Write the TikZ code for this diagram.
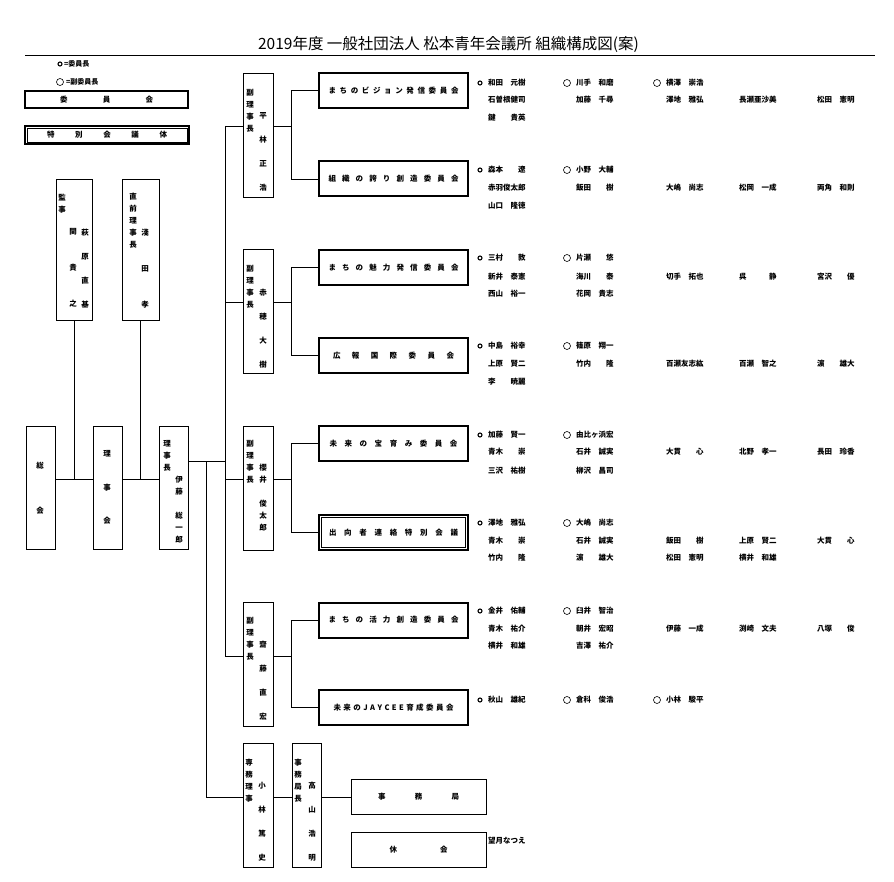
\documentclass[tikz,border=0pt]{standalone}
\usepackage{fontspec}
\setmainfont{Noto Sans CJK JP}

% spread the characters of a label over a fixed width
\newcommand\spreadtext[2]{\makebox[#1][s]{\spreadloop#2\relax}}
\def\spreadloop#1#2{#1\ifx\relax#2\else\hfill\expandafter\spreadloop\expandafter#2\fi}

% member rows beside the committees
\newcommand\headrow[3]{%
  \node[chairmark] (c#1) at (480,#1) {};
  \node[mem] (h#1-0) at (488,#1) {#2};
  \foreach \n [count=\i] in {#3} {
    \pgfmathsetmacro\cx{{488,576,666}[\i]}
    \node[vicemark] (v#1-\i) at (\cx-9,#1) {};
    \node[mem] (h#1-\i) at (\cx,#1) {\n};
  }}
\newcommand\memrow[2]{%
  \foreach \n [count=\i from 0] in {#2} {
    \pgfmathsetmacro\cx{{488,576,666,739,817}[\i]}
    \node[mem] (m#1-\i) at (\cx,#1) {\n};
  }}

\begin{document}
\begin{tikzpicture}[x=1pt, y=-1pt]
  \tikzstyle{link}=[line width=0.8pt]
  \tikzstyle{box}=[draw, line width=0.8pt, inner sep=0pt]
  \tikzstyle{vpbox}=[box, minimum width=30pt, minimum height=124pt]
  \tikzstyle{combox}=[draw, line width=2pt, inner sep=0pt, minimum width=149pt, minimum height=35pt, font=\fontsize{7.5}{9}\selectfont\bfseries]
  \tikzstyle{inner}=[line width=0.6pt]
  \tikzstyle{vcol}=[anchor=north, inner sep=0pt, align=center, font=\fontsize{7.5}{12}\selectfont\bfseries]
  \tikzstyle{vcolwide}=[vcol, font=\fontsize{7.5}{24}\selectfont\bfseries]
  \tikzstyle{mem}=[anchor=west, inner sep=0pt, font=\fontsize{7.5}{9}\selectfont\bfseries]
  \tikzstyle{chairmark}=[circle, draw, line width=1.1pt, minimum size=4pt, inner sep=0pt]
  \tikzstyle{vicemark}=[circle, draw, line width=0.6pt, minimum size=7pt, inner sep=0pt]

  \useasboundingbox (0,0) rectangle (894,882);

  % title
  \node[font=\fontsize{15.5}{18}\selectfont] (title) at (448.5,44) {2019年度 一般社団法人 松本青年会議所 組織構成図(案)};
  \coordinate (ruleL) at (25,55);
  \coordinate (ruleR) at (875,55);
  \draw[link] (ruleL) -- (ruleR);

  % legend
  \node[chairmark] (lgchair) at (60,64) {};
  \node[mem, font=\fontsize{7}{8}\selectfont\bfseries] (lgchairT) at (64,64) {=委員長};
  \node[vicemark] (lgvice) at (60,82) {};
  \node[mem, font=\fontsize{7}{8}\selectfont\bfseries] (lgviceT) at (66,82) {=副委員長};

  \node[box, line width=1.8pt, minimum width=163pt, minimum height=17pt, font=\fontsize{7.5}{9}\selectfont\bfseries] (iinkai) at (106.5,99.5) {\spreadtext{93pt}{委員会}};
  \node[box, line width=1.8pt, minimum width=164pt, minimum height=18pt, font=\fontsize{7.5}{9}\selectfont\bfseries] (tokubetsu) at (107,135) {\spreadtext{120pt}{特別会議体}};
  \draw[inner] ([shift={(3,3)}]tokubetsu.north west) rectangle ([shift={(-3,-3)}]tokubetsu.south east);

  % left side
  \node[box, minimum width=36pt, minimum height=141pt] (kanji) at (74,249.5) {};
  \node[vcol] (kanjiL) at (62,193.6) {監\\事};
  \node[vcol, font=\fontsize{7.5}{36}\selectfont\bfseries] (kanjiA) at (73,228.6) {関\\貴\\之};
  \node[vcolwide] (kanjiB) at (85,228.6) {萩\\原\\直\\基};

  \node[box, minimum width=37pt, minimum height=141pt] (chokuzen) at (140.5,249.5) {};
  \node[vcol] (chokuzenL) at (133,192.6) {直\\前\\理\\事\\長};
  \node[vcol, font=\fontsize{7.5}{36}\selectfont\bfseries] (chokuzenN) at (145,228.6) {淺\\田\\孝};

  \node[box, minimum width=29pt, minimum height=123pt] (sokai) at (40.5,487.5) {};
  \node[vcol, font=\fontsize{7.5}{45}\selectfont\bfseries] (sokaiT) at (40,461.6) {総\\会};
  \node[box, minimum width=29pt, minimum height=123pt] (rijikai) at (107.5,487.5) {};
  \node[vcol, font=\fontsize{7.5}{33.5}\selectfont\bfseries] (rijikaiT) at (107,450.6) {理\\事\\会};
  \node[box, minimum width=29pt, minimum height=123pt] (rijicho) at (173.5,487.5) {};
  \node[vcol] (rijichoL) at (167,440.6) {理\\事\\長};
  \node[vcol] (rijichoN) at (179,475.6) {伊\\藤\\[12pt]総\\一\\郎};

  % vice presidents
  \node[vpbox] (vp1) at (258,135) {};
  \node[vcol] (vp1L) at (250,88.6) {副\\理\\事\\長};
  \node[vcolwide] (vp1N) at (263,112.6) {平\\林\\正\\浩};
  \node[vpbox] (vp2) at (258,311) {};
  \node[vcol] (vp2L) at (250,264.6) {副\\理\\事\\長};
  \node[vcolwide] (vp2N) at (263,288.6) {赤\\穂\\大\\樹};
  \node[vpbox] (vp3) at (258,488) {};
  \node[vcol] (vp3L) at (250,439.6) {副\\理\\事\\長};
  \node[vcol] (vp3N) at (263,463.6) {櫻\\井\\[12pt]俊\\太\\郎};
  \node[vpbox] (vp4) at (258,664) {};
  \node[vcol] (vp4L) at (250,616.6) {副\\理\\事\\長};
  \node[vcolwide] (vp4N) at (263,640.6) {齋\\藤\\直\\宏};

  % committees
  \node[combox] (ca1) at (393.5,90.5) {\spreadtext{130pt}{まちのビジョン発信委員会}};
  \node[combox] (cb1) at (393.5,179) {\spreadtext{130pt}{組織の誇り創造委員会}};
  \node[combox] (ca2) at (393.5,267.5) {\spreadtext{130pt}{まちの魅力発信委員会}};
  \node[combox] (cb2) at (393.5,355.5) {\spreadtext{121pt}{広報国際委員会}};
  \node[combox] (ca3) at (393.5,443.5) {\spreadtext{128pt}{未来の宝育み委員会}};
  \node[combox] (cb3) at (393.5,532.5) {\spreadtext{129pt}{出向者連絡特別会議}};
  \draw[inner] ([shift={(3.5,3.5)}]cb3.north west) rectangle ([shift={(-3.5,-3.5)}]cb3.south east);
  \node[combox] (ca4) at (393.5,620) {\spreadtext{130pt}{まちの活力創造委員会}};
  \node[combox] (cb4) at (393.5,707.5) {\spreadtext{120pt}{未来のJAYCEE育成委員会}};

  % secretariat
  \node[vpbox] (senmu) at (258,805) {};
  \node[vcol] (senmuL) at (249,758.6) {専\\務\\理\\事};
  \node[vcolwide] (senmuN) at (262,781.6) {小\\林\\篤\\史};
  \node[vpbox, minimum width=29pt] (jkc) at (306.5,805) {};
  \node[vcol] (jkcL) at (298,758.6) {事\\務\\局\\長};
  \node[vcolwide] (jkcN) at (312,781.6) {高\\山\\浩\\明};
  \node[box, minimum width=135pt, minimum height=35pt, font=\fontsize{7.5}{9}\selectfont\bfseries] (jimukyoku) at (418.5,796.5) {\spreadtext{81pt}{事務局}};
  \node[box, minimum width=135pt, minimum height=35pt, font=\fontsize{7.5}{9}\selectfont\bfseries] (kyukai) at (418.5,849.5) {\spreadtext{58pt}{休会}};
  \node[mem] (mochizuki) at (488,841) {望月なつえ};

  % members
  \headrow{83}{和田　元樹}{川手　和磨,横澤　崇浩}
  \memrow{100}{石曽根健司,加藤　千尋,澤地　雅弘,長瀬亜沙美,松田　憲明}
  \memrow{118}{鍵　　貴英}
  \headrow{170}{森本　　遼}{小野　大輔}
  \memrow{188}{赤羽俊太郎,飯田　　樹,大嶋　尚志,松岡　一成,両角　和則}
  \memrow{206}{山口　隆徳}
  \headrow{258}{三村　　敦}{片瀬　　悠}
  \memrow{277}{新井　泰憲,海川　　泰,切手　拓也,呉　　　静,宮沢　　優}
  \memrow{294}{西山　裕一,花岡　貴志}
  \headrow{346}{中島　裕幸}{篠原　翔一}
  \memrow{364}{上原　賢二,竹内　　隆,百瀬友志紘,百瀬　智之,濵　　雄大}
  \memrow{382}{李　　暁麗}
  \headrow{435}{加藤　賢一}{由比ヶ浜宏}
  \memrow{452}{青木　　崇,石井　誠実,大貫　　心,北野　孝一,長田　玲香}
  \memrow{471}{三沢　祐樹,柳沢　昌司}
  \headrow{523}{澤地　雅弘}{大嶋　尚志}
  \memrow{541}{青木　　崇,石井　誠実,飯田　　樹,上原　賢二,大貫　　心}
  \memrow{558}{竹内　　隆,濵　　雄大,松田　憲明,横井　和雄}
  \headrow{611}{金井　佑輔}{臼井　智治}
  \memrow{629}{青木　祐介,朝井　宏昭,伊藤　一成,渕崎　文夫,八塚　　俊}
  \memrow{646}{横井　和雄,吉澤　祐介}
  \headrow{700}{秋山　雄紀}{倉科　俊浩,小林　駿平}

  % connectors
  \coordinate (mainline) at (0,479);
  \draw[link] (kanji.south) -- (kanji.south |- mainline);
  \draw[link] (chokuzen.south) -- (chokuzen.south |- mainline);
  \draw[link] (sokai.east |- mainline) -- (rijikai.west |- mainline);
  \draw[link] (rijikai.east |- mainline) -- (rijicho.west |- mainline);

  \coordinate (j1) at (225,126);
  \coordinate (j2) at (225,302);
  \coordinate (j3) at (225,479);
  \coordinate (j4) at (225,656);
  \coordinate (tap) at (206,461);
  \coordinate (js) at (206,797);
  \draw[link] (rijicho.east |- tap) -- (j1 |- tap);
  \draw[link] (j1) -- (j4);
  \foreach \k in {1,...,4} {
    \draw[link] (j\k) -- (j\k -| vp\k.west);
    \draw[link] (vp\k.east |- j\k) -- ++(18,0) coordinate (b\k);
    \draw[link] (ca\k.west) -| (b\k) |- (cb\k.west);
  }
  \draw[link] (tap) -- (js) -- (senmu.west |- js);
  \draw[link] (senmu.east |- js) -- (jkc.west |- js);
  \draw[link] (jkc.east |- js) -- (jimukyoku.west |- js);
\end{tikzpicture}
\end{document}
